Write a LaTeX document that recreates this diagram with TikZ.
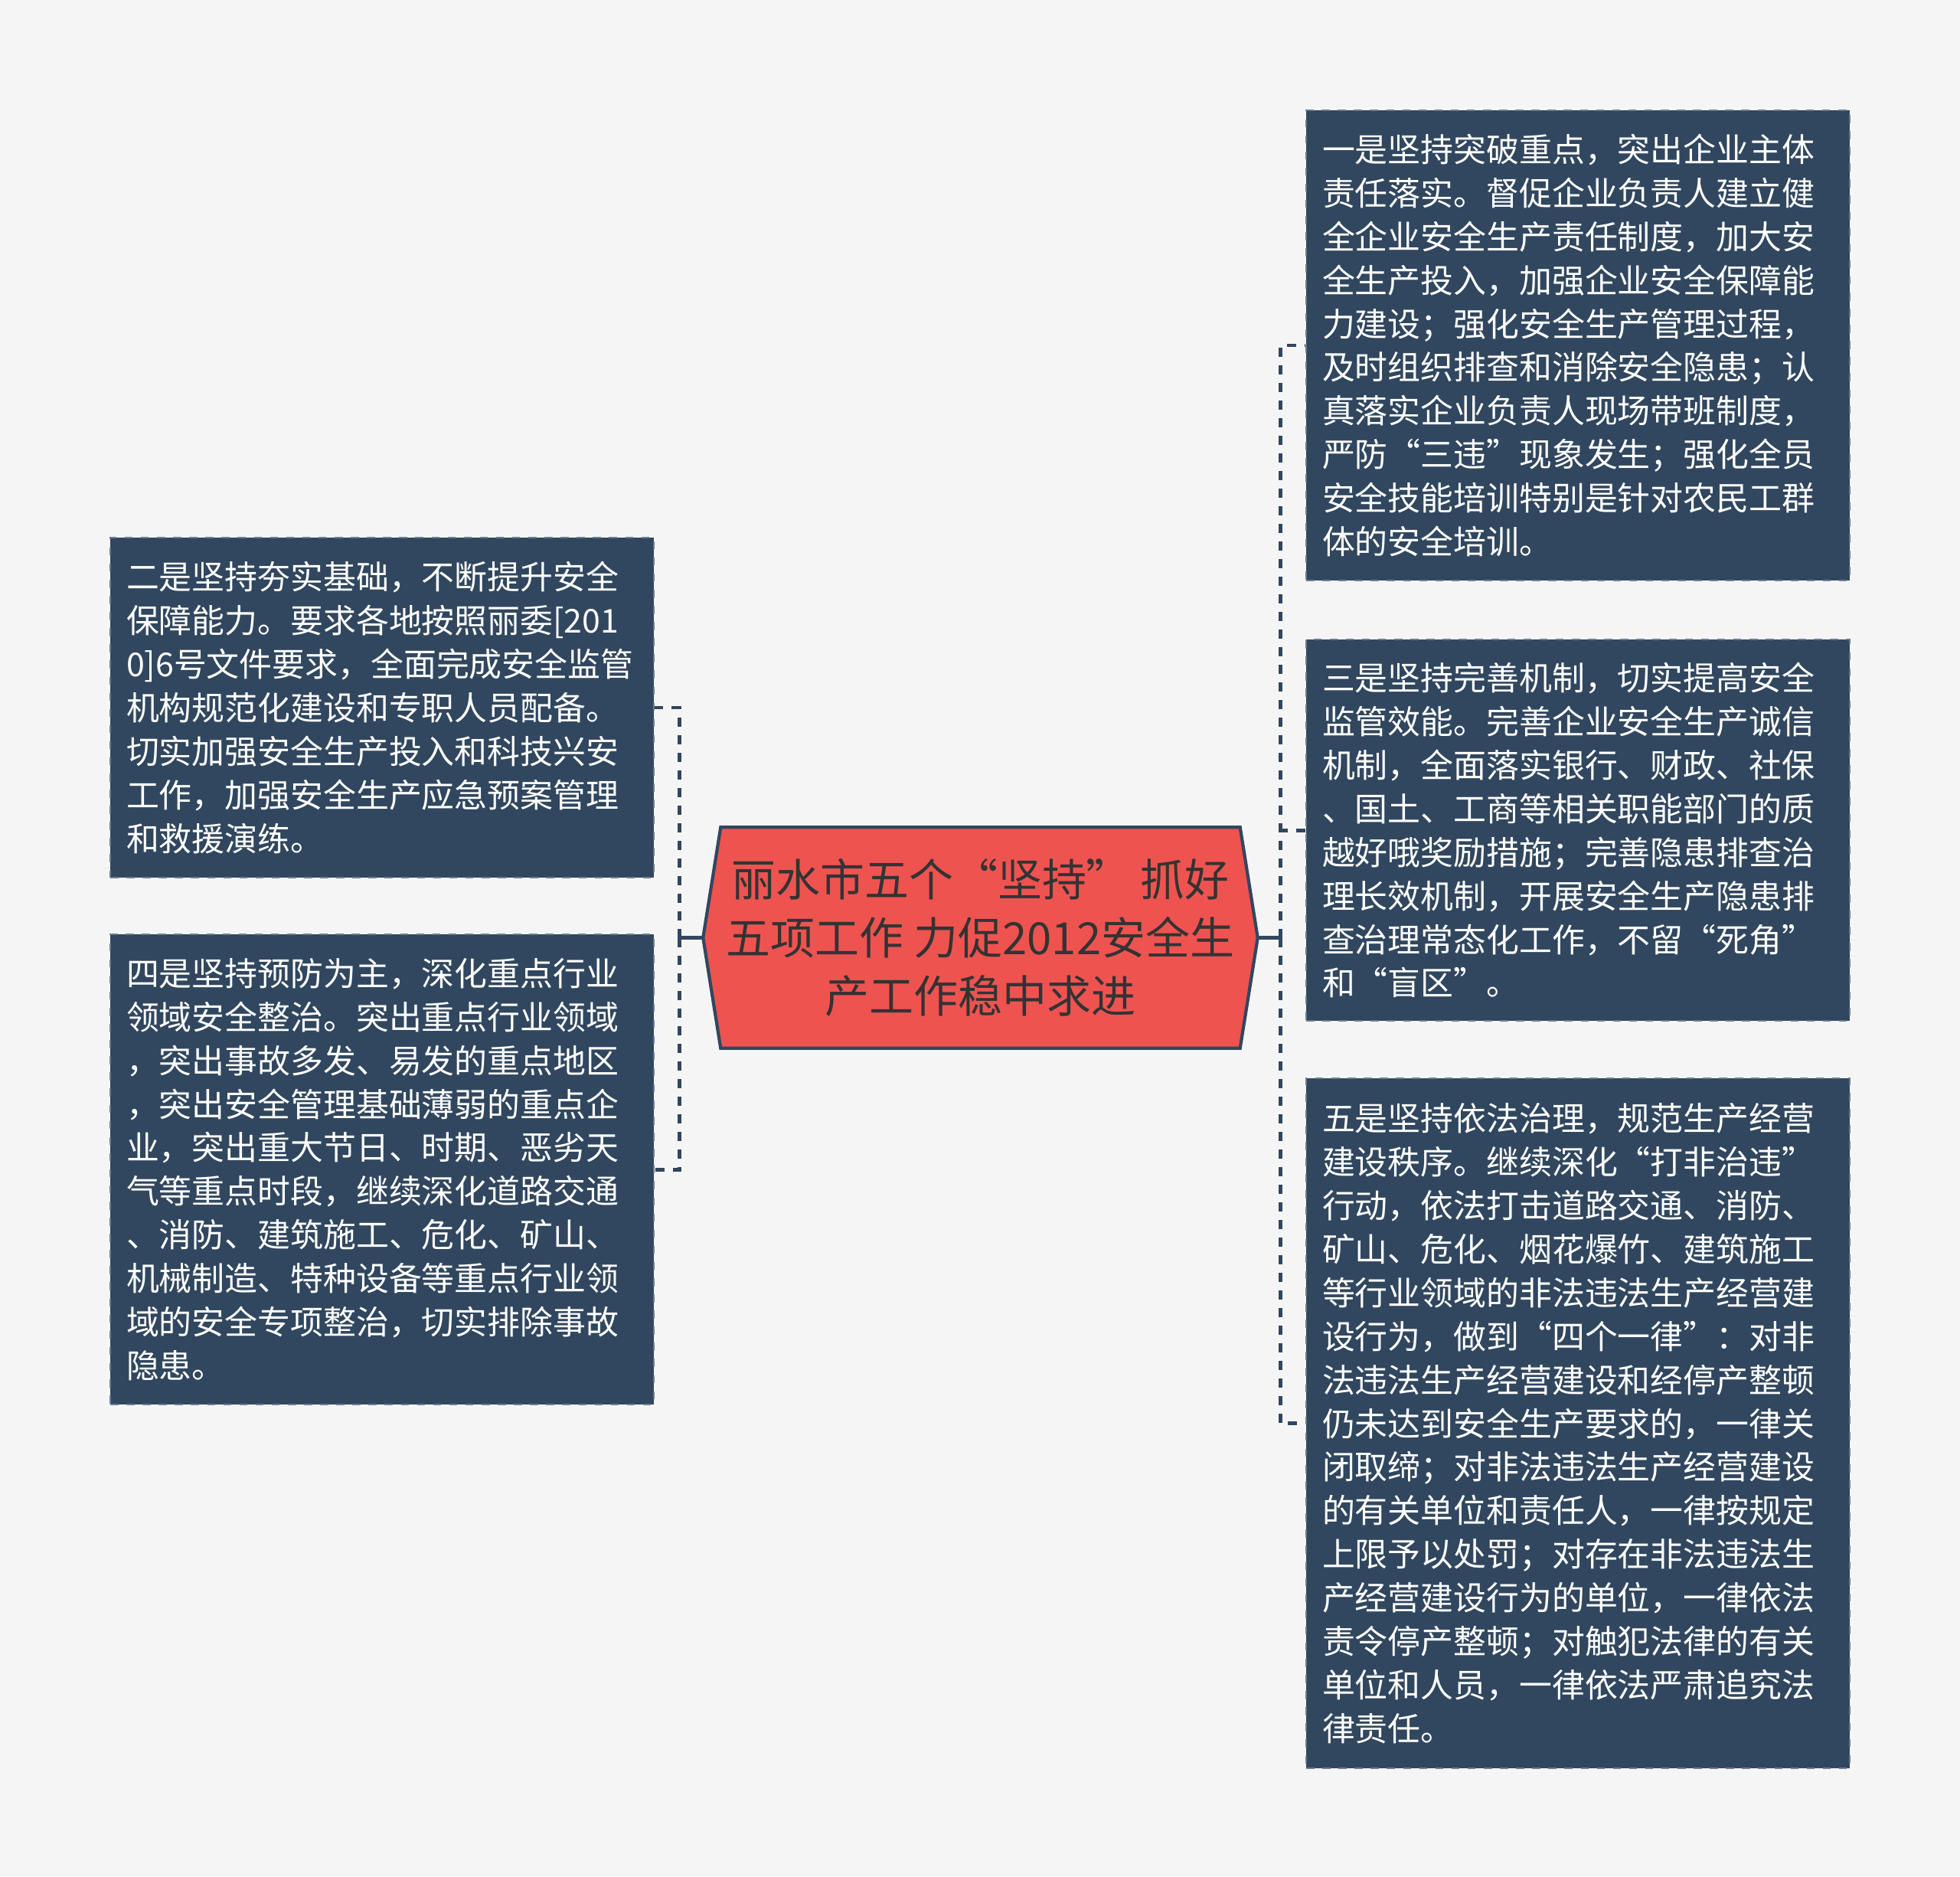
\documentclass[tikz,border=0pt]{standalone}
\usepackage{fontspec}
\setmainfont{Noto Sans CJK SC}
\usetikzlibrary{positioning,backgrounds}

\definecolor{slate}{HTML}{31475F}
\definecolor{slateedge}{HTML}{6A7D93}
\definecolor{hubred}{HTML}{EF5350}
\definecolor{inkdark}{HTML}{333333}
\definecolor{paper}{HTML}{F5F5F5}

\tikzset{
  leaf/.style={rectangle, fill=slate, draw=slateedge, dashed, line width=0.6pt,
    text=white, text width=6.68cm, inner xsep=0.21cm, inner ysep=0pt, align=left,
    font=\fontsize{12.2pt}{16.2pt}\selectfont},
  hub/.style={minimum width=7.23cm, minimum height=2.87cm, inner sep=0pt,
    align=center, text=inkdark, font=\fontsize{16.5pt}{21.6pt}\selectfont},
  stem/.style={draw=slate, line width=1.3pt},
  link/.style={draw=slate, line width=1.4pt, dash pattern=on 0.12cm off 0.11cm}
}

\begin{document}
\begin{tikzpicture}
    \useasboundingbox (0,0) rectangle (25.6,-24.5);

    \node[hub] (title) at (12.805,-12.245) {丽水市五个“坚持” 抓好\\五项工作 力促2012安全生\\产工作稳中求进};

    % right side
    \node[leaf, minimum height=6.14cm] (one) at (20.61,-4.51) {一是坚持突破重点，突出企业主体\\责任落实。督促企业负责人建立健\\全企业安全生产责任制度，加大安\\全生产投入，加强企业安全保障能\\力建设；强化安全生产管理过程，\\及时组织排查和消除安全隐患；认\\真落实企业负责人现场带班制度，\\严防“三违”现象发生；强化全员\\安全技能培训特别是针对农民工群\\体的安全培训。};
    \node[leaf, minimum height=4.98cm, below=0.75cm of one] (three) {三是坚持完善机制，切实提高安全\\监管效能。完善企业安全生产诚信\\机制，全面落实银行、财政、社保\\、国土、工商等相关职能部门的质\\越好哦奖励措施；完善隐患排查治\\理长效机制，开展安全生产隐患排\\查治理常态化工作，不留“死角”\\和“盲区”。};
    \node[leaf, minimum height=9.01cm, below=0.73cm of three] (five) {五是坚持依法治理，规范生产经营\\建设秩序。继续深化“打非治违”\\行动，依法打击道路交通、消防、\\矿山、危化、烟花爆竹、建筑施工\\等行业领域的非法违法生产经营建\\设行为，做到“四个一律”：对非\\法违法生产经营建设和经停产整顿\\仍未达到安全生产要求的，一律关\\闭取缔；对非法违法生产经营建设\\的有关单位和责任人，一律按规定\\上限予以处罚；对存在非法违法生\\产经营建设行为的单位，一律依法\\责令停产整顿；对触犯法律的有关\\单位和人员，一律依法严肃追究法\\律责任。};

    % left side
    \node[leaf, minimum height=4.44cm] (two) at (4.99,-9.24) {二是坚持夯实基础，不断提升安全\\保障能力。要求各地按照丽委[201\\0]6号文件要求，全面完成安全监管\\机构规范化建设和专职人员配备。\\切实加强安全生产投入和科技兴安\\工作，加强安全生产应急预案管理\\和救援演练。};
    \node[leaf, minimum height=6.14cm, below=0.72cm of two] (four) {四是坚持预防为主，深化重点行业\\领域安全整治。突出重点行业领域\\，突出事故多发、易发的重点地区\\，突出安全管理基础薄弱的重点企\\业，突出重大节日、时期、恶劣天\\气等重点时段，继续深化道路交通\\、消防、建筑施工、危化、矿山、\\机械制造、特种设备等重点行业领\\域的安全专项整治，切实排除事故\\隐患。};

    % connectors
    \draw[stem] (title.west) -- ++(-0.31,0) coordinate (lj);
    \draw[stem] ([yshift=0.1cm]lj) -- ([yshift=-0.1cm]lj);
    \draw[link] (lj) |- (two.east);
    \draw[link] (lj) |- (four.east);
    \draw[stem] (title.east) -- ++(0.30,0) coordinate (rj);
    \draw[stem] ([yshift=0.1cm]rj) -- ([yshift=-0.1cm]rj);
    \draw[link] (rj) |- (one.west);
    \draw[link] (rj) |- (three.west);
    \draw[link] (rj) |- (five.west);

    \begin{scope}[on background layer]
        \fill[paper] (0,0) rectangle (25.6,-24.5);
        \draw[fill=hubred, draw=slate, line width=1.2pt] (title.west) -- ([xshift=0.23cm]title.north west) -- ([xshift=-0.23cm]title.north east) -- (title.east) -- ([xshift=-0.23cm]title.south east) -- ([xshift=0.23cm]title.south west) -- cycle;
    \end{scope}
\end{tikzpicture}
\end{document}
